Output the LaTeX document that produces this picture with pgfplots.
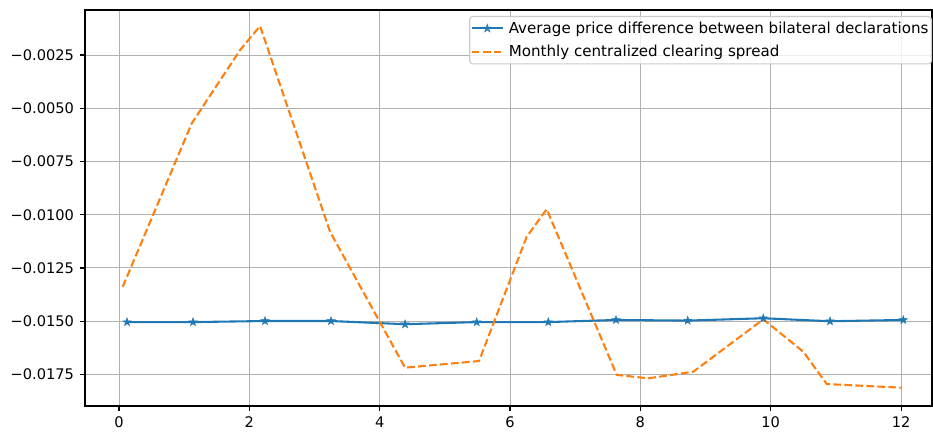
\documentclass[border=0pt]{standalone}
\usepackage{fontspec}
\setmainfont{DejaVu Sans}
\usepackage{pgfplots}
\pgfplotsset{compat=1.18}
\definecolor{tabblue}{HTML}{1F77B4}
\definecolor{taborange}{HTML}{FF7F0E}
\definecolor{gridgray}{HTML}{B0B0B0}
\pgfdeclareplotmark{fstar}{%
 \pgfpathmoveto{\pgfpointpolar{90}{\pgfplotmarksize}}%
 \pgfpathlineto{\pgfpointpolar{126}{0.382\pgfplotmarksize}}%
 \pgfpathlineto{\pgfpointpolar{162}{\pgfplotmarksize}}%
 \pgfpathlineto{\pgfpointpolar{198}{0.382\pgfplotmarksize}}%
 \pgfpathlineto{\pgfpointpolar{234}{\pgfplotmarksize}}%
 \pgfpathlineto{\pgfpointpolar{270}{0.382\pgfplotmarksize}}%
 \pgfpathlineto{\pgfpointpolar{306}{\pgfplotmarksize}}%
 \pgfpathlineto{\pgfpointpolar{342}{0.382\pgfplotmarksize}}%
 \pgfpathlineto{\pgfpointpolar{18}{\pgfplotmarksize}}%
 \pgfpathlineto{\pgfpointpolar{54}{0.382\pgfplotmarksize}}%
 \pgfpathclose
 \pgfusepathqfillstroke
}
\begin{document}
\fontsize{14.6}{17}\selectfont
\begin{tikzpicture}
\begin{axis}[
  scale only axis,
  width=847pt, height=396pt,
  xmin=-0.522, xmax=12.475,
  ymin=-0.01898, ymax=-0.000387,
  xtick={0,2,4,6,8,10,12},
  xticklabels={0,2,4,6,8,10,12},
  ytick={-0.0175,-0.015,-0.0125,-0.01,-0.0075,-0.005,-0.0025},
  yticklabels={−0.0175,−0.0150,−0.0125,−0.0100,−0.0075,−0.0050,−0.0025},
  scaled y ticks=false,
  scaled x ticks=false,
  tick pos=left,
  tick align=outside,
  major tick length=4.9pt,
  every tick/.style={black, line width=1.1pt},
  axis line style={black, line width=1.1pt},
  grid=major,
  major grid style={gridgray, line width=1pt},
  xticklabel style={yshift=-1pt},
  yticklabel style={xshift=-1pt},
  legend style={at={(1,1)}, anchor=north east, xshift=0pt, yshift=-6pt,
    draw=black!20, rounded corners=3pt, fill=white, fill opacity=0.8, text opacity=1,
    line width=1.1pt, inner xsep=1pt, inner ysep=2pt,
    font=\fontsize{15.1}{17}\selectfont,
    nodes={inner xsep=2pt, inner ysep=3pt},
    cells={anchor=west}, row sep=4pt},
  legend image code/.code={\draw[mark repeat=2,mark phase=2] plot coordinates {(0pt,0pt) (15.5pt,0pt) (31pt,0pt)};\path (34pt,0pt);},
]
\addplot[tabblue, line width=2.08pt, mark=fstar, mark size=4.3pt,
  mark options={solid, fill=tabblue, line width=0.5pt}] coordinates {
(0.123,-0.01504) (1.135,-0.01504) (2.240,-0.01499) (3.253,-0.01499)
(4.389,-0.01514) (5.489,-0.01504) (6.587,-0.01504) (7.626,-0.01494)
(8.726,-0.01497) (9.886,-0.01486) (10.91,-0.01500) (12.035,-0.01494)
};
\addlegendentry{Average price difference between bilateral declarations}
\addplot[taborange, line width=2.08pt, dash pattern=on 7.7pt off 3.3pt] coordinates {
(0.057,-0.01338) (1.116,-0.00571) (1.857,-0.00227) (2.164,-0.00114)
(3.238,-0.01080) (4.389,-0.01718) (5.524,-0.01687) (6.256,-0.01103)
(6.563,-0.00974) (7.637,-0.01752) (8.122,-0.01768) (8.812,-0.01737)
(9.886,-0.01491) (10.50,-0.01643) (10.86,-0.01795) (12.01,-0.01812)
};
\addlegendentry{Monthly centralized clearing spread}
\end{axis}
\path (current axis.south west) ++(-85pt,-24pt);
\path (current axis.north east) ++(1pt,10pt);
\end{tikzpicture}
\end{document}
